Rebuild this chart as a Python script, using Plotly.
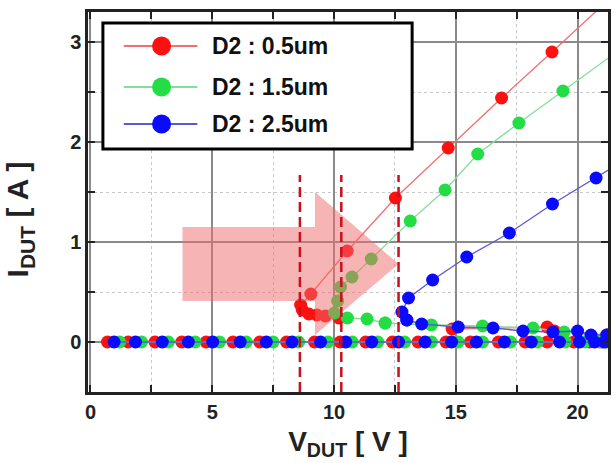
import plotly.graph_objects as go

# ---------------- data ----------------
series_names = ["D2 : 0.5um", "D2 : 1.5um", "D2 : 2.5um"]
marker_colors = ["#ff1010", "#22dd44", "#0a0aff"]
line_colors = ["#f07070", "#80e098", "#5a5ad0"]

# off-state (leakage) rows
red_off_v = [0.70, 1.55, 2.65, 3.75, 4.75, 5.85, 6.95, 8.05, 9.20, 10.25, 11.30, 12.40, 13.45, 14.60, 15.60, 16.75, 17.85, 18.75, 19.85, 20.50, 21.00]
red_off_i = [0, 0, 0, 0, 0, 0, 0, 0, 0, 0, 0, 0, 0, 0, 0, 0, 0, 0, 0, 0, 0]
green_off_v = [1.20, 2.10, 3.20, 4.30, 5.30, 6.40, 7.50, 8.55, 9.75, 10.75, 11.80, 12.90, 14.00, 15.10, 16.10, 17.25, 18.35, 19.50, 20.30, 20.90, 21.20]
green_off_i = [0, 0, 0, 0, 0, 0, 0, 0, 0, 0, 0, 0, 0, 0, 0, 0, 0, 0, 0, 0, 0]
blue_off_v = [0.97, 1.85, 2.95, 4.02, 5.02, 6.15, 7.22, 8.28, 9.45, 10.48, 11.55, 12.65, 13.74, 14.83, 15.85, 17.00, 18.10, 19.26, 20.08, 20.70, 21.10]
blue_off_i = [0, 0, 0, 0, 0, 0, 0, 0, 0, 0, 0, 0, 0, 0, 0, 0, 0, 0, 0, 0, 0]

# on-state (snapback) branches
red_on_v = [10.20, 9.65, 9.30, 8.97, 8.70, 8.63, 9.05, 10.54, 12.52, 14.69, 16.88, 18.95, 21.40]
red_on_i = [0.24, 0.26, 0.27, 0.28, 0.32, 0.37, 0.48, 0.91, 1.44, 1.94, 2.44, 2.90, 3.45]
green_on_v = [12.10, 11.36, 10.55, 10.02, 10.15, 10.27, 10.74, 11.53, 13.13, 14.56, 15.90, 17.59, 19.40, 21.60]
green_on_i = [0.19, 0.23, 0.24, 0.29, 0.41, 0.55, 0.65, 0.83, 1.21, 1.52, 1.88, 2.19, 2.51, 2.90]
blue_on_v = [12.99, 12.79, 13.06, 14.05, 15.45, 17.20, 18.97, 20.76, 21.60]
blue_on_i = [0.22, 0.30, 0.44, 0.62, 0.85, 1.09, 1.38, 1.64, 1.77]

# post-breakdown tails
red_tail_v = [14.85, 18.75, 19.05, 21.20]
red_tail_i = [0.13, 0.15, 0.11, 0.07]
green_tail_v = [12.10, 14.00, 16.10, 18.17, 19.45, 21.20]
green_tail_i = [0.19, 0.17, 0.16, 0.14, 0.10, 0.06]
blue_tail_v = [12.99, 13.60, 15.10, 16.53, 17.76, 18.99, 20.00, 20.55, 21.20]
blue_tail_i = [0.22, 0.18, 0.15, 0.14, 0.11, 0.10, 0.11, 0.07, 0.07]

trigger_v = [8.6, 10.3, 12.65]

x_ticks = [0, 5, 10, 15, 20]
y_ticks = [0, 1, 2, 3]
x_title = "V<sub>DUT</sub> [ V ]"
y_title = "I<sub>DUT</sub> [ A ]"

# ---------------- figure ----------------
FONT = "Arial, Liberation Sans, sans-serif"
fig = go.Figure()

groups = [
    (red_off_v, red_off_i, red_on_v, red_on_i, red_tail_v, red_tail_i),
    (green_off_v, green_off_i, green_on_v, green_on_i, green_tail_v, green_tail_i),
    (blue_off_v, blue_off_i, blue_on_v, blue_on_i, blue_tail_v, blue_tail_i),
]
for k, (ov, oi, nv, ni, tv, ti) in enumerate(groups):
    for xs, ys in ((ov, oi), (tv, ti), (nv, ni)):
        fig.add_trace(go.Scatter(
            x=xs, y=ys, mode="lines+markers", name=series_names[k],
            legendgroup=series_names[k], showlegend=False,
            line=dict(color=line_colors[k], width=1.3),
            marker=dict(color=marker_colors[k], size=13, line=dict(width=0)),
        ))

shapes = []
# big pink arrow
shapes.append(dict(
    type="path", xref="x", yref="y", layer="above",
    path="M 3.78,1.15 L 9.22,1.15 L 9.22,1.50 L 12.65,0.78 L 9.22,0.07 L 9.22,0.41 L 3.78,0.41 Z",
    fillcolor="rgba(240,105,105,0.5)", line=dict(width=0),
))
# trigger dashed lines
for v in trigger_v:
    shapes.append(dict(type="line", xref="x", yref="y", layer="above",
                       x0=v, x1=v, y0=-0.5, y1=1.67,
                       line=dict(color="#c8101e", width=2.5, dash="10px,5px")))

# custom legend (paper coordinates)
def px_x(p):
    return (p - 88) / 523.0

def px_y(p):
    return (392 - p) / 380.0

shapes.append(dict(type="rect", xref="paper", yref="paper", layer="above",
                   x0=px_x(103), x1=px_x(414), y0=px_y(149), y1=px_y(23),
                   fillcolor="white", line=dict(color="black", width=3)))
annotations = []
rows = [46, 87, 124]
for k, name in enumerate(series_names):
    yy = px_y(rows[k])
    shapes.append(dict(type="line", xref="paper", yref="paper", layer="above",
                       x0=px_x(124), x1=px_x(198), y0=yy, y1=yy,
                       line=dict(color=line_colors[k], width=2)))
    shapes.append(dict(type="circle", xref="paper", yref="paper", layer="above",
                       xsizemode="pixel", ysizemode="pixel",
                       xanchor=px_x(162), yanchor=yy,
                       x0=-9.5, x1=9.5, y0=-9.5, y1=9.5,
                       fillcolor=marker_colors[k], line=dict(width=0)))
    annotations.append(dict(xref="paper", yref="paper", x=px_x(211), y=yy,
                            xanchor="left", yanchor="middle", showarrow=False,
                            text=name,
                            font=dict(family=FONT, size=23, color="#111", weight="bold")))

# y-axis title placed as rotated text
annotations.append(dict(xref="paper", yref="paper", x=px_x(19), y=px_y(219),
                        xanchor="center", yanchor="middle", showarrow=False,
                        textangle=-90, text=y_title,
                        font=dict(family=FONT, size=30, color="#222", weight="bold")))

axis_common = dict(
    showline=True, linecolor="#222", linewidth=2.5, mirror="ticks",
    ticks="inside", ticklen=7, tickwidth=1.5, tickcolor="#222",
    showgrid=True, gridcolor="#8a8a8a", gridwidth=1.5,
    zeroline=False,
    tickfont=dict(family=FONT, size=20, color="#222", weight="bold"),
)

fig.update_layout(
    width=615, height=463,
    margin=dict(l=88, r=4, t=12, b=71),
    paper_bgcolor="white", plot_bgcolor="white",
    showlegend=False,
    shapes=shapes, annotations=annotations,
    xaxis=dict(
        range=[-0.1, 21.25], tickvals=x_ticks, ticktext=[str(t) for t in x_ticks],
        minor=dict(dtick=2.5, tick0=0, ticks="inside", ticklen=7, tickcolor="#222",
                   showgrid=True, gridcolor="#c8c8c8", griddash="dot", gridwidth=1.2),
        title=dict(text=x_title, standoff=10,
                   font=dict(family=FONT, size=28, color="#222", weight="bold")),
        **axis_common,
    ),
    yaxis=dict(
        range=[-0.5, 3.3], tickvals=y_ticks, ticktext=[str(t) for t in y_ticks],
        minor=dict(dtick=0.5, tick0=0, ticks="inside", ticklen=7, tickcolor="#222",
                   showgrid=True, gridcolor="#c8c8c8", griddash="dot", gridwidth=1.2),
        **axis_common,
    ),
)

fig.write_html("out.html")
